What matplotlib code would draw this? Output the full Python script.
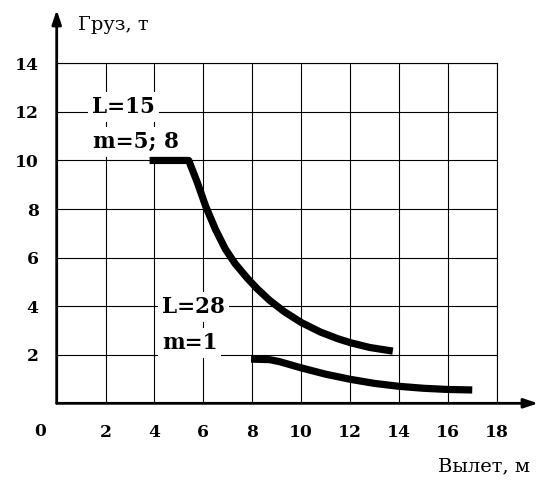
import numpy as np
import matplotlib
matplotlib.use("Agg")
import matplotlib.pyplot as plt

# данные
x_l15 = [3.8, 5.4, 5.75, 6.1, 6.5, 6.9, 7.3, 7.8, 8.2, 8.7, 9.3,
         10.0, 10.8, 11.5, 12.0, 12.8, 13.75]
y_l15 = [10.0, 10.0, 9.1, 8.1, 7.15, 6.35, 5.75, 5.15, 4.72, 4.25, 3.78,
         3.33, 2.93, 2.66, 2.5, 2.3, 2.15]

x_l28 = [7.95, 8.7, 9.1, 10.0, 11.0, 12.0, 13.0, 14.0, 15.0, 16.0, 17.0]
y_l28 = [1.82, 1.8, 1.72, 1.46, 1.2, 0.99, 0.82, 0.7, 0.62, 0.57, 0.55]

x_ticks = [2, 4, 6, 8, 10, 12, 14, 16, 18]
y_ticks = [2, 4, 6, 8, 10, 12, 14]

plt.rcParams["font.family"] = ["DejaVu Serif"]

fig = plt.figure(figsize=(5.39, 4.84), dpi=100)
ax = fig.add_axes([0.1052, 0.1667, 0.9215 - 0.1052, 0.8692 - 0.1667])

ax.set_xlim(0, 18)
ax.set_ylim(0, 14)

# сетка
ax.set_xticks(x_ticks)
ax.set_yticks(y_ticks)
ax.grid(True, color="black", lw=0.8, zorder=1)
ax.tick_params(length=0)
ax.set_xticklabels([str(t) for t in x_ticks], fontsize=12.3, fontweight="bold")
ax.set_yticklabels([str(t) for t in y_ticks], fontsize=12.3, fontweight="bold")
ax.tick_params(axis="x", pad=15)
ax.tick_params(axis="y", pad=13)

for s in ["top", "right"]:
    ax.spines[s].set_linewidth(0.8)
for s in ["left", "bottom"]:
    ax.spines[s].set_visible(False)

# оси со стрелками
arrow = dict(arrowstyle="-|>,head_length=0.6,head_width=0.2", lw=2.0,
             color="black", mutation_scale=14, shrinkA=0, shrinkB=0)
ax.annotate("", xy=(0, 1.157), xytext=(0, 0), xycoords="axes fraction",
            arrowprops=arrow, annotation_clip=False)
ax.annotate("", xy=(1.094, 0), xytext=(0, 0), xycoords="axes fraction",
            arrowprops=arrow, annotation_clip=False)

# кривые
ax.plot(x_l15, y_l15, color="black", lw=5.2, solid_capstyle="butt",
        solid_joinstyle="round", zorder=3, clip_on=False)
ax.plot(x_l28, y_l28, color="black", lw=5.2, solid_capstyle="butt",
        solid_joinstyle="round", zorder=3, clip_on=False)

# подписи
box = dict(facecolor="white", edgecolor="none", pad=3)
ax.text(1.45, 12.2, "L=15", fontsize=15.5, fontweight="bold", ha="left",
        va="center", bbox=box, zorder=2)
ax.text(1.5, 10.76, "m=5; 8", fontsize=15.5, fontweight="bold", ha="left",
        va="center", bbox=box, zorder=2)
ax.text(4.3, 3.96, "L=28", fontsize=15.5, fontweight="bold", ha="left",
        va="center", bbox=box, zorder=2)
ax.text(4.3, 2.48, "m=1", fontsize=15.5, fontweight="bold", ha="left",
        va="center", bbox=box, zorder=2)

ax.text(-0.038, -0.084, "0", transform=ax.transAxes, fontsize=12.3,
        fontweight="bold", ha="center", va="center")
ax.text(0.048, 1.113, "Груз, т", transform=ax.transAxes, fontsize=14,
        ha="left", va="center")
ax.text(1.076, -0.184, "Вылет, м", transform=ax.transAxes, fontsize=14,
        ha="right", va="center")

fig.savefig("out.png", dpi=100)
